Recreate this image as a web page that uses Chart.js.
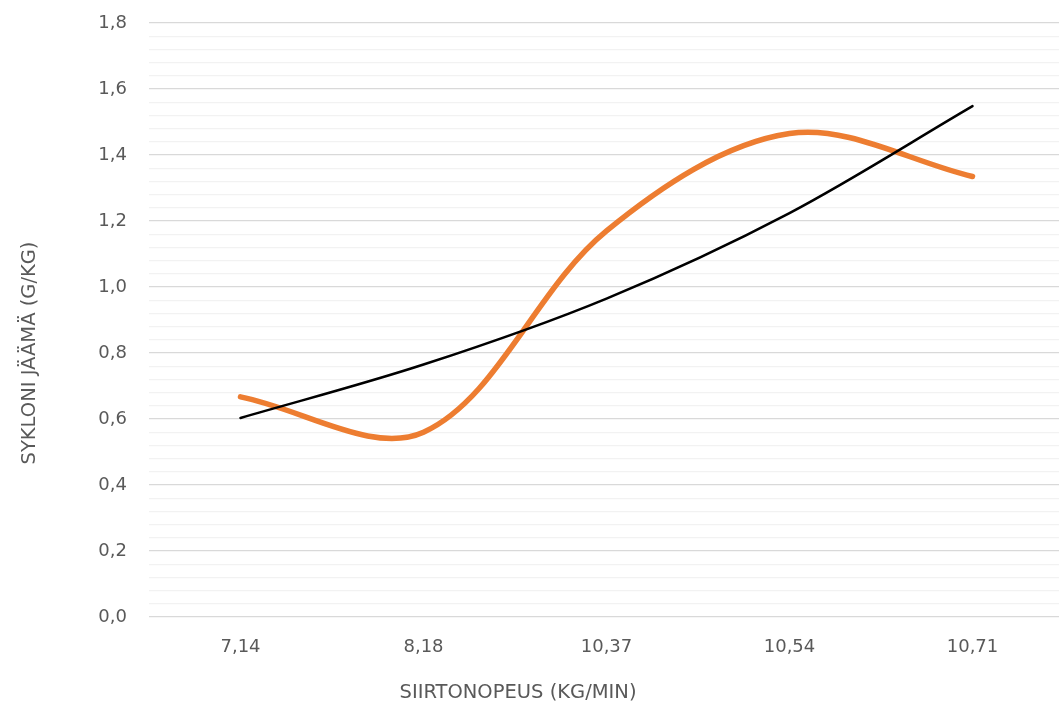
<!DOCTYPE html>
<html>
<head>
<meta charset="utf-8">
<script src="https://cdn.jsdelivr.net/npm/chart.js@4"></script>
<style>
  html, body { margin: 0; padding: 0; background: #fff; overflow: hidden; }
  #wrap { width: 1064px; height: 709px; position: relative; }
</style>
</head>
<body>
<div id="wrap"><canvas id="myChart" width="1064" height="709"></canvas></div>
<script>
const categories = ['7,14', '8,18', '10,37', '10,54', '10,71'];
const jaama = [0.667, 0.56, 1.17, 1.465, 1.335];
const trend = [0.603, 0.765, 0.965, 1.224, 1.548];
const yTitle = 'SYKLONI JÄÄMÄ (G/KG)';
const xTitle = 'SIIRTONOPEUS (KG/MIN)';

const textColor = '#595959';
const fontFamily = "'DejaVu Sans', sans-serif";

const isMajor = (v) => Math.abs(v / 0.2 - Math.round(v / 0.2)) < 1e-6;

// axis titles sit where Excel put them, not centred on the plot
const axisTitles = {
  id: 'axisTitles',
  afterDraw(chart) {
    const c = chart.ctx;
    c.save();
    c.fillStyle = textColor;
    c.font = '19.5px ' + fontFamily;
    c.textAlign = 'center';
    c.textBaseline = 'middle';
    c.fillText(xTitle, 518, 693);
    c.translate(30, 353);
    c.rotate(-Math.PI / 2);
    c.fillText(yTitle, 0, 0);
    c.restore();
  },
};

const ctx = document.getElementById('myChart').getContext('2d');
new Chart(ctx, {
  type: 'line',
  data: {
    labels: categories,
    datasets: [
      {
        label: 'Jäämä',
        data: jaama,
        borderColor: '#ED7D31',
        backgroundColor: '#ED7D31',
        borderWidth: 5.5,
        borderCapStyle: 'round',
        pointRadius: 0,
        tension: 0.34,
        order: 2,
      },
      {
        label: 'Trendi',
        data: trend,
        borderColor: '#000000',
        backgroundColor: '#000000',
        borderWidth: 2.5,
        borderCapStyle: 'round',
        pointRadius: 0,
        cubicInterpolationMode: 'monotone',
        order: 1,
      },
    ],
  },
  options: {
    responsive: false,
    animation: false,
    layout: { padding: { top: 23, right: 0, left: 0, bottom: 0 } },
    plugins: {
      legend: { display: false },
      tooltip: { enabled: false },
    },
    scales: {
      x: {
        offset: true,
        grid: { display: false },
        border: { display: false },
        ticks: {
          color: textColor,
          font: { family: fontFamily, size: 18 },
          padding: 12,
        },
        afterFit(scale) { scale.height = 92; },
      },
      y: {
        min: 0,
        max: 1.8,
        border: { display: false },
        grid: {
          drawTicks: false,
          lineWidth: 1.3,
          color: (c) => (isMajor(c.tick.value) ? '#d9d9d9' : '#f2f2f2'),
        },
        ticks: {
          stepSize: 0.04,
          autoSkip: false,
          padding: 22,
          color: textColor,
          font: { family: fontFamily, size: 18 },
          callback: (v) => (isMajor(v) ? v.toFixed(1).replace('.', ',') : ''),
        },
        afterFit(scale) {
          scale.width = 149;
          scale.paddingTop = 0;
          scale.paddingBottom = 0;
        },
      },
    },
  },
  plugins: [axisTitles],
});
</script>
</body>
</html>
